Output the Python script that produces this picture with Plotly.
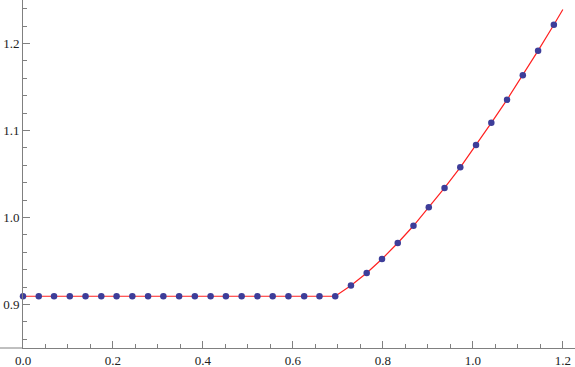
import plotly.graph_objects as go

x_pts = [0.0, 0.035, 0.069, 0.104, 0.139, 0.174, 0.208, 0.243, 0.278, 0.312,
         0.347, 0.382, 0.417, 0.451, 0.486, 0.521, 0.555, 0.590, 0.625, 0.659,
         0.694, 0.729, 0.764, 0.798, 0.833, 0.868, 0.902, 0.937, 0.972, 1.007,
         1.041, 1.076, 1.111, 1.145, 1.180]
y_pts = [0.9095] * 21 + [0.9218, 0.9363, 0.9523, 0.9707, 0.9905, 1.0117, 1.0340,
                         1.0577, 1.0833, 1.1088, 1.1354, 1.1635, 1.1918, 1.2215]

# the continuous curve runs on to x = 1.2
x_curve = x_pts + [1.2]
y_curve = y_pts + [1.239]

x_ticks = [0.0, 0.2, 0.4, 0.6, 0.8, 1.0, 1.2]
y_ticks = [0.9, 1.0, 1.1, 1.2]

axis_grey = "#808080"
label_font = dict(family="Liberation Serif, Times New Roman, serif", size=13, color="#222222")

fig = go.Figure()
fig.add_trace(go.Scatter(x=x_curve, y=y_curve, mode="lines",
                         line=dict(color="#ff2020", width=1.2),
                         hoverinfo="skip", cliponaxis=False))
fig.add_trace(go.Scatter(x=x_pts, y=y_pts, mode="markers",
                         marker=dict(color="#3d3d99", size=6.5),
                         cliponaxis=False))

fig.update_layout(
    width=575, height=367,
    margin=dict(l=23, r=0, t=0, b=19),
    paper_bgcolor="white", plot_bgcolor="white",
    showlegend=False,
    xaxis=dict(range=[0, 1.227], tickvals=x_ticks,
               ticktext=[f"{v:.1f}" for v in x_ticks],
               ticks="inside", ticklen=7, tickcolor=axis_grey,
               showline=True, linecolor=axis_grey, linewidth=1,
               showgrid=False, zeroline=False, tickfont=label_font,
               minor=dict(ticks="inside", dtick=0.05, tick0=0, ticklen=4,
                          tickcolor=axis_grey, showgrid=False)),
    yaxis=dict(range=[0.85, 1.25], tickvals=y_ticks,
               ticktext=[f"{v:.1f}" for v in y_ticks],
               ticks="inside", ticklen=7, tickcolor=axis_grey,
               showline=True, linecolor=axis_grey, linewidth=1,
               showgrid=False, zeroline=False, tickfont=label_font,
               minor=dict(ticks="inside", dtick=0.02, tick0=0.86, ticklen=4,
                          tickcolor=axis_grey, showgrid=False)),
)

# x axis continues a little to the left of the y axis
fig.add_shape(type="line", xref="paper", yref="paper",
              x0=-23 / 552, x1=0, y0=0, y1=0,
              line=dict(color=axis_grey, width=1))

# drop the browser's default page margin so the figure sits at the corner
fig.write_html("out.html", config={"displayModeBar": False},
               post_script="document.body.style.margin='0';")
